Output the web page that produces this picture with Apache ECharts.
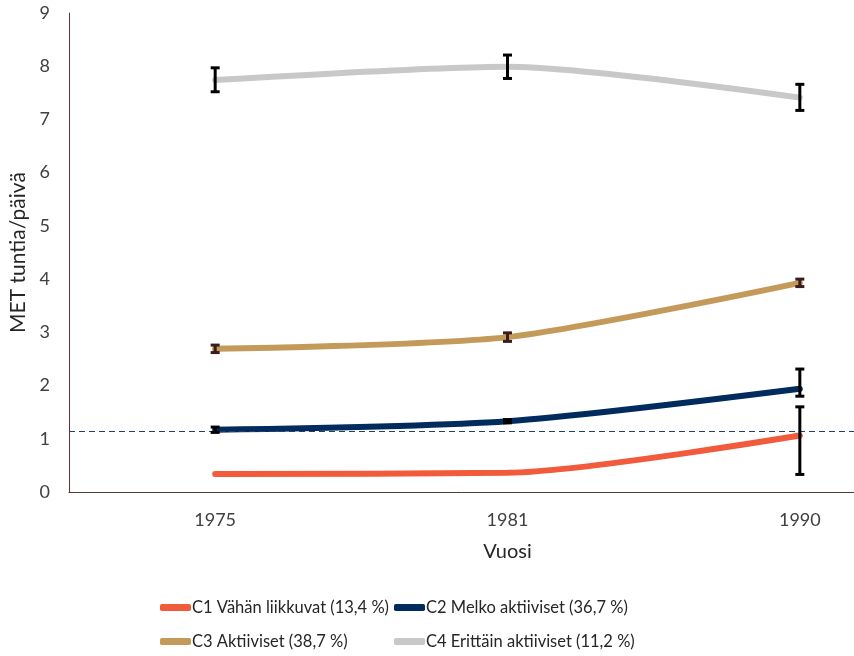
<!DOCTYPE html>
<html>
<head>
<meta charset="utf-8">
<script src="https://cdn.jsdelivr.net/npm/echarts@6/dist/echarts.min.js"></script>
<style>
html,body{margin:0;padding:0;background:#fff;}
#chart{width:854px;height:656px;}
</style>
</head>
<body>
<div id="chart"></div>
<script>
const years = ['1975', '1981', '1990'];
const yTicks = [0, 1, 2, 3, 4, 5, 6, 7, 8, 9];
const seriesNames = ['C1 Vähän liikkuvat (13,4 %)', 'C2 Melko aktiiviset (36,7 %)', 'C3 Aktiiviset (38,7 %)', 'C4 Erittäin aktiiviset (11,2 %)'];
const c1 = [0.34, 0.36, 1.06];
const c2 = [1.17, 1.33, 1.94];
const c3 = [2.69, 2.91, 3.93];
const c4 = [7.74, 7.99, 7.41];
// error bar low / high
const c1Low = [null, null, 0.33];
const c1High = [null, null, 1.60];
const c2Low = [1.12, 1.30, 1.80];
const c2High = [1.22, 1.36, 2.31];
const c3Low = [2.62, 2.83, 3.86];
const c3High = [2.76, 2.99, 4.00];
const c4Low = [7.52, 7.77, 7.17];
const c4High = [7.97, 8.21, 7.66];
const refLine = 1.15;

const colors = ['#F25A3C', '#002B5C', '#C49A5A', '#C8C8C8'];
const errColors = ['#000000', '#000000', '#3a1c1c', '#000000'];
const values = [c1, c2, c3, c4];
const lows = [c1Low, c2Low, c3Low, c4Low];
const highs = [c1High, c2High, c3High, c4High];

const chart = echarts.init(document.getElementById('chart'));
const series = [];
values.forEach((v, i) => {
  const s = {
    name: seriesNames[i],
    type: 'line',
    data: v,
    smooth: 0.25,
    symbol: 'none',
    lineStyle: {color: colors[i], width: 6, cap: 'round'},
    itemStyle: {color: colors[i]},
    z: 2
  };
  if (i === 1) {
    s.markLine = {
      silent: true,
      symbol: 'none',
      label: {show: false},
      lineStyle: {color: '#1F3F6F', width: 1, type: [6, 4]},
      data: [{yAxis: refLine}]
    };
  }
  series.push(s);
});
values.forEach((v, i) => {
  const data = [];
  lows[i].forEach((lo, k) => {
    if (lo !== null) data.push([k, lo, highs[i][k]]);
  });
  series.push({
    type: 'custom',
    name: seriesNames[i] + ' err',
    z: 5,
    data: data,
    renderItem: function (params, api) {
      const x = api.value(0);
      const p1 = api.coord([x, api.value(1)]);
      const p2 = api.coord([x, api.value(2)]);
      const cw = 4.5;
      const st = {stroke: errColors[i], lineWidth: 3};
      return {
        type: 'group',
        children: [
          {type: 'line', shape: {x1: p1[0], y1: p1[1], x2: p2[0], y2: p2[1]}, style: st},
          {type: 'line', shape: {x1: p1[0] - cw, y1: p1[1], x2: p1[0] + cw, y2: p1[1]}, style: st},
          {type: 'line', shape: {x1: p2[0] - cw, y1: p2[1], x2: p2[0] + cw, y2: p2[1]}, style: st}
        ]
      };
    }
  });
});

const legendPos = [[160, 599], [394, 599], [160, 633], [394, 633]];
const legends = seriesNames.map((n, i) => ({
  data: [n],
  left: legendPos[i][0],
  top: legendPos[i][1],
  padding: 0,
  icon: 'roundRect',
  itemWidth: 31,
  itemHeight: 7,
  itemGap: 0,
  textStyle: {fontFamily: 'Lato', fontSize: 16.5, color: '#262626', padding: [0, 0, 0, -4]},
  selectedMode: false
}));

chart.setOption({
  animation: false,
  textStyle: {fontFamily: 'Lato'},
  grid: {left: 69, width: 877, top: 13, bottom: 164, containLabel: false, outerBoundsMode: 'none'},
  legend: legends,
  xAxis: {
    type: 'category',
    data: years,
    boundaryGap: true,
    name: 'Vuosi',
    nameLocation: 'middle',
    nameGap: 50,
    nameTextStyle: {fontFamily: 'Lato', fontSize: 20, color: '#262626'},
    axisLine: {lineStyle: {color: '#5a3535', width: 1}},
    axisTick: {show: false},
    axisLabel: {fontFamily: 'Lato', fontSize: 18, color: '#404040', margin: 19}
  },
  yAxis: {
    type: 'value',
    min: yTicks[0],
    max: yTicks[yTicks.length - 1],
    interval: 1,
    name: 'MET tuntia/päivä',
    nameLocation: 'middle',
    nameGap: 37,
    nameRotate: 90,
    nameTextStyle: {fontFamily: 'Lato', fontSize: 21, color: '#262626'},
    axisLine: {show: true, lineStyle: {color: '#5a3535', width: 1}},
    axisTick: {show: false},
    splitLine: {show: false},
    axisLabel: {fontFamily: 'Lato', fontSize: 18, color: '#404040', margin: 19}
  },
  series: series
});
</script>
</body>
</html>
